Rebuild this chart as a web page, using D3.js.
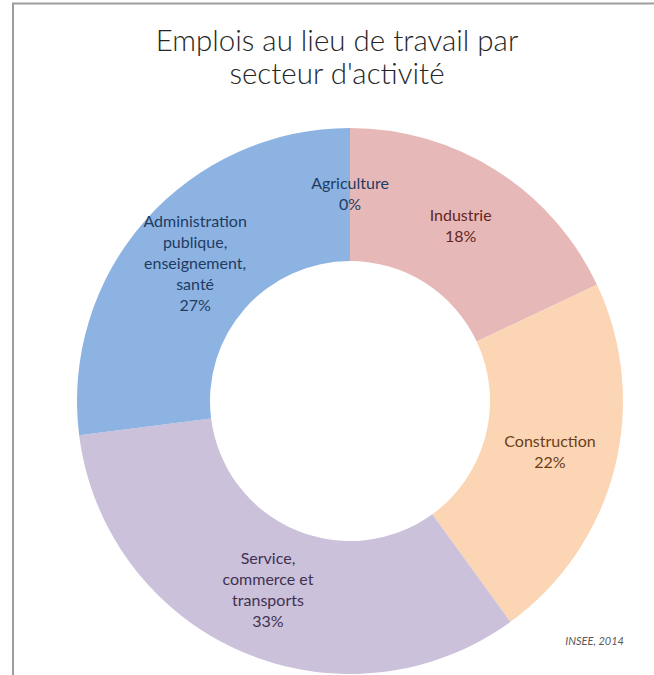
<!DOCTYPE html>
<html>
<head>
<meta charset="utf-8">
<script src="https://cdn.jsdelivr.net/npm/d3@7/dist/d3.min.js"></script>
<style>
  html, body { margin: 0; padding: 0; background: #fff; }
  svg { display: block; }
</style>
</head>
<body>
<svg id="chart" width="654" height="675"></svg>
<script>
// Emplois au lieu de travail par secteur d'activité (INSEE, 2014)
const sectors = ["Agriculture", "Industrie", "Construction", "Service, commerce et transports", "Administration publique, enseignement, santé"];
const shares = [0, 18, 22, 33, 27];
const labelLines = [
  ["Agriculture"],
  ["Industrie"],
  ["Construction"],
  ["Service,", "commerce et", "transports"],
  ["Administration", "publique,", "enseignement,", "santé"]
];
const fills = ["#9bbb59", "#e6b9b8", "#fcd5b5", "#ccc1da", "#8db3e2"];
const textColors = ["#1f3b62", "#632523", "#6b3d17", "#3f3151", "#1f3b62"];

const W = 654, H = 675;
const cx = 350, cy = 401, rOuter = 273, rInner = 140;

const svg = d3.select("#chart");

// frame lines along top and left
svg.append("line").attr("x1", 12).attr("x2", W).attr("y1", 3.5).attr("y2", 3.5)
  .attr("stroke", "#9d9d9d").attr("stroke-width", 2);
svg.append("line").attr("x1", 13).attr("x2", 13).attr("y1", 3).attr("y2", H)
  .attr("stroke", "#9d9d9d").attr("stroke-width", 2);

// title
const title = svg.append("text")
  .attr("text-anchor", "middle")
  .attr("font-family", "'URW Gothic', 'Century Gothic', 'Lato', sans-serif")
  .attr("font-size", 29.5)
  .attr("font-weight", 300)
  .attr("fill", "#262626");
title.append("tspan").attr("x", 337).attr("y", 51).text("Emplois au lieu de travail par");
title.append("tspan").attr("x", 337).attr("y", 84).text("secteur d'activité");

const data = sectors.map((s, i) => ({ sector: s, value: shares[i], lines: labelLines[i], fill: fills[i], color: textColors[i] }));

const pie = d3.pie().value(d => d.value).sort(null);
const arc = d3.arc().innerRadius(rInner).outerRadius(rOuter);
const labelArc = d3.arc().innerRadius((rInner + rOuter) / 2).outerRadius((rInner + rOuter) / 2);

const g = svg.append("g").attr("transform", `translate(${cx},${cy})`);
const arcs = pie(data);

g.selectAll("path").data(arcs).join("path")
  .attr("d", arc)
  .attr("fill", d => d.data.fill);

// slice labels: name lines + percentage, centred on the ring midline
const lineH = 21;
const labels = g.selectAll("text.lbl").data(arcs).join("text")
  .attr("class", "lbl")
  .attr("text-anchor", "middle")
  .attr("font-family", "Lato, 'Open Sans', sans-serif")
  .attr("font-size", 16)
  .attr("fill", d => d.data.color);

labels.each(function(d) {
  const [x, y] = labelArc.centroid(d);
  const lines = d.data.lines.concat([d3.format(".0f")(d.data.value) + "%"]);
  const y0 = y - (lines.length - 1) * lineH / 2 + 5;
  const t = d3.select(this);
  lines.forEach((ln, k) => {
    t.append("tspan").attr("x", x).attr("y", y0 + k * lineH).text(ln);
  });
});

// source note
svg.append("text")
  .attr("x", 624).attr("y", 645)
  .attr("text-anchor", "end")
  .attr("font-family", "Lato, 'Open Sans', sans-serif")
  .attr("font-style", "italic")
  .attr("font-size", 11)
  .attr("fill", "#595959")
  .text("INSEE, 2014");
</script>
</body>
</html>
